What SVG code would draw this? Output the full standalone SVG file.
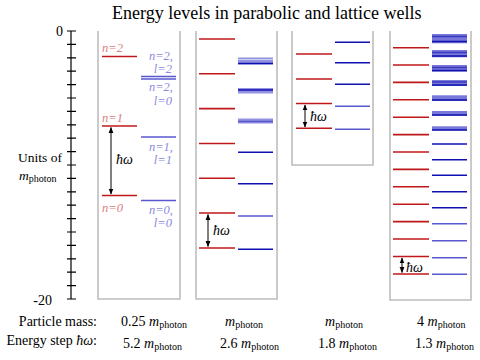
<svg xmlns="http://www.w3.org/2000/svg" width="480" height="360" viewBox="0 0 480 360" font-family="'Liberation Serif', 'DejaVu Serif', 'Times New Roman', serif">
<style>
text{font-family:'Liberation Serif','DejaVu Serif','Times New Roman',serif;fill:#000}
.well{fill:none;stroke:#bdbdbd;stroke-width:1.6}
.red{stroke:#c01818;stroke-width:1.6}
.blu{stroke:#1010b0;stroke-width:1.4}
.blt{stroke:#5858d0;stroke-width:1.4}
.band{fill:#7878da}
.rl{fill:#d98080;font-style:italic;font-size:12.5px}
.bl{fill:#8a8ae0;font-style:italic;font-size:12.5px;text-anchor:end}
.arr{stroke:#000;stroke-width:1;marker-start:url(#ah);marker-end:url(#ah)}
.hw{font-style:italic;font-size:14px}
.lab{font-size:14px}
.sub{font-size:10px}
.tick{stroke:#000;stroke-width:1.2}
</style>
<defs>
<marker id="ah" viewBox="0 0 10 10" refX="9" refY="5" markerWidth="6" markerHeight="6" orient="auto-start-reverse" markerUnits="userSpaceOnUse">
<path d="M0,1 L10,5 L0,9 Z" fill="#000"/>
</marker>
</defs>
<rect width="480" height="360" fill="#fff"/>
<text x="112" y="18.5" font-size="18">Energy levels in parabolic and lattice wells</text>

<g id="axis">
<line x1="71" y1="31" x2="71" y2="299" class="tick"/>
<path class="tick" d="M67,31H76M67,44.4H76M67,57.8H76M67,71.2H76M67,84.6H76M67,98H76M67,111.4H76M67,124.8H76M67,138.2H76M67,151.6H76M67,165H76M67,178.4H76M67,191.8H76M67,205.2H76M67,218.6H76M67,232H76M67,245.4H76M67,258.8H76M67,272.2H76M67,285.6H76M67,299H76"/>
<text x="63" y="36" class="lab" text-anchor="end">0</text>
<text x="52" y="305" class="lab" text-anchor="end">-20</text>
<text x="18" y="162" font-size="13.5">Units of</text>
<text x="19" y="180" font-size="13.5"><tspan font-style="italic">m</tspan><tspan class="sub" dy="2">photon</tspan></text>
</g>

<g id="well1">
<path class="well" d="M98,31V299H180V31"/>
<line x1="102" y1="56.5" x2="137" y2="56.5" class="red"/>
<line x1="102" y1="126" x2="137" y2="126" class="red"/>
<line x1="102" y1="195.5" x2="137" y2="195.5" class="red"/>
<line x1="141" y1="76.5" x2="176" y2="76.5" class="blt"/>
<line x1="141" y1="79" x2="176" y2="79" class="blt"/>
<line x1="141" y1="137" x2="176" y2="137" class="blt"/>
<line x1="141" y1="200.5" x2="176" y2="200.5" class="blt"/>
<text x="102" y="52" class="rl">n=2</text>
<text x="102" y="122" class="rl">n=1</text>
<text x="102" y="212" class="rl">n=0</text>
<text x="173" y="59.5" class="bl">n=2,</text>
<text x="172" y="73" class="bl">l=2</text>
<text x="173" y="91" class="bl">n=2,</text>
<text x="172" y="105" class="bl">l=0</text>
<text x="173" y="150.5" class="bl">n=1,</text>
<text x="172" y="164" class="bl">l=1</text>
<text x="173" y="213.5" class="bl">n=0,</text>
<text x="172" y="227" class="bl">l=0</text>
<text x="116" y="164" class="hw">ħω</text>
</g>

<g id="well2">
<path class="well" d="M196,31V299H277V31"/>
<path class="red" d="M199,39H235M199,73.8H235M199,108.6H235M199,143.5H235M199,178.3H235M199,213H235M199,248H235"/>
<line x1="238" y1="249.3" x2="273" y2="249.3" class="blu" stroke-width="1"/>
<line x1="238" y1="216" x2="273" y2="216" class="blt"/>
<line x1="238" y1="183.7" x2="273" y2="183.7" class="blu" stroke-width="2"/>
<line x1="238" y1="152.3" x2="273" y2="152.3" class="blu" stroke-width="2.4" stroke="#2a2ab8"/>
<rect x="238" y="118.5" width="35" height="5" class="band" opacity="0.8"/>
<line x1="238" y1="121.5" x2="273" y2="121.5" class="blt"/>
<rect x="238" y="88" width="35" height="5.5" class="band" opacity="0.8"/>
<line x1="238" y1="90" x2="273" y2="90" class="blu" stroke-width="1"/>
<rect x="238" y="57.5" width="35" height="7" class="band" opacity="0.8"/>
<line x1="238" y1="59.5" x2="273" y2="59.5" stroke="#fff" stroke-width="0.8" opacity="0.7"/>
<line x1="238" y1="63.5" x2="273" y2="63.5" class="blu" stroke-width="1.4"/>
<text x="213" y="235" class="hw">ħω</text>
</g>

<g id="well3">
<path class="well" d="M292,31V165H373V31"/>
<path class="red" d="M296,54H332M296,79H332M296,103.5H332M296,128.3H332"/>
<line x1="335" y1="42.3" x2="370" y2="42.3" class="blu" stroke-width="2.8" stroke="#2a2ab8"/>
<line x1="335" y1="62.7" x2="370" y2="62.7" class="blu" stroke-width="2.4" stroke="#2a2ab8"/>
<line x1="335" y1="84.3" x2="370" y2="84.3" class="blu" stroke-width="2" stroke="#3a3ac0"/>
<line x1="335" y1="106.3" x2="370" y2="106.3" class="blt" stroke-width="1.4"/>
<line x1="335" y1="129.3" x2="370" y2="129.3" class="blt" stroke-width="1.2"/>
<text x="310" y="121" class="hw">ħω</text>
</g>

<g id="well4">
<path class="well" d="M390,31V300H471V31"/>
<path class="red" d="M393,47.7H429M393,65H429M393,82.4H429M393,99.8H429M393,117.2H429M393,134.6H429M393,152H429M393,169.4H429M393,186.8H429M393,204.2H429M393,221.6H429M393,239H429M393,256.5H429M393,274H429"/>
<rect x="432" y="34" width="35" height="9.3" class="band"/>
<rect x="432" y="50" width="35" height="7.3" class="band"/>
<rect x="432" y="65" width="35" height="6.7" class="band"/>
<rect x="432" y="80" width="35" height="6" class="band"/>
<rect x="432" y="95.3" width="35" height="5.7" class="band"/>
<rect x="432" y="111" width="35" height="4.7" class="band"/>
<rect x="432" y="126.3" width="35" height="4" class="band"/>
<path class="blu" stroke-width="1.6" d="M432,41.5H467M432,56H467M432,70.5H467M432,85H467M432,100H467M432,115H467M432,130H467"/>
<path class="blu" stroke-width="0.8" stroke="#fff" opacity="0.6" d="M432,36.5H467M432,52.5H467M432,67.5H467M432,82H467"/>
<line x1="432" y1="144" x2="467" y2="144" class="blu" stroke-width="3" stroke="#2020b0"/>
<line x1="432" y1="159.7" x2="467" y2="159.7" class="blu" stroke-width="2.6" stroke="#2020b0"/>
<line x1="432" y1="175.3" x2="467" y2="175.3" class="blu" stroke-width="2.4"/>
<line x1="432" y1="191.7" x2="467" y2="191.7" class="blu" stroke-width="2" stroke="#3030b8"/>
<line x1="432" y1="207.7" x2="467" y2="207.7" class="blu" stroke-width="2"/>
<line x1="432" y1="223.7" x2="467" y2="223.7" class="blt" stroke-width="1.6"/>
<line x1="432" y1="240.7" x2="467" y2="240.7" class="blt" stroke-width="1.5"/>
<line x1="432" y1="257.7" x2="467" y2="257.7" class="blt" stroke-width="1.3"/>
<line x1="432" y1="274.3" x2="467" y2="274.3" class="blt" stroke-width="1.3"/>
<text x="406" y="272" class="hw">ħω</text>
</g>

<g id="connectors">
<line x1="111" y1="127.5" x2="111" y2="194" class="arr"/>
<line x1="208" y1="214.5" x2="208" y2="246.5" class="arr"/>
<line x1="305" y1="105" x2="305" y2="127" class="arr"/>
<line x1="402" y1="258" x2="402" y2="272.5" class="arr"/>
</g>

<g id="footer">
<text x="97" y="326" class="lab" text-anchor="end">Particle mass:</text>
<text x="97" y="345" class="lab" text-anchor="end">Energy step <tspan font-style="italic">ħω</tspan>:</text>
<text x="121" y="326" class="lab">0.25 <tspan font-style="italic">m</tspan><tspan class="sub" dy="2">photon</tspan></text>
<text x="225" y="326" class="lab"><tspan font-style="italic">m</tspan><tspan class="sub" dy="2">photon</tspan></text>
<text x="325" y="326" class="lab"><tspan font-style="italic">m</tspan><tspan class="sub" dy="2">photon</tspan></text>
<text x="417" y="326" class="lab">4 <tspan font-style="italic">m</tspan><tspan class="sub" dy="2">photon</tspan></text>
<text x="123" y="348" class="lab">5.2 <tspan font-style="italic">m</tspan><tspan class="sub" dy="2">photon</tspan></text>
<text x="220" y="348" class="lab">2.6 <tspan font-style="italic">m</tspan><tspan class="sub" dy="2">photon</tspan></text>
<text x="318" y="348" class="lab">1.8 <tspan font-style="italic">m</tspan><tspan class="sub" dy="2">photon</tspan></text>
<text x="415" y="348" class="lab">1.3 <tspan font-style="italic">m</tspan><tspan class="sub" dy="2">photon</tspan></text>
</g>
</svg>
